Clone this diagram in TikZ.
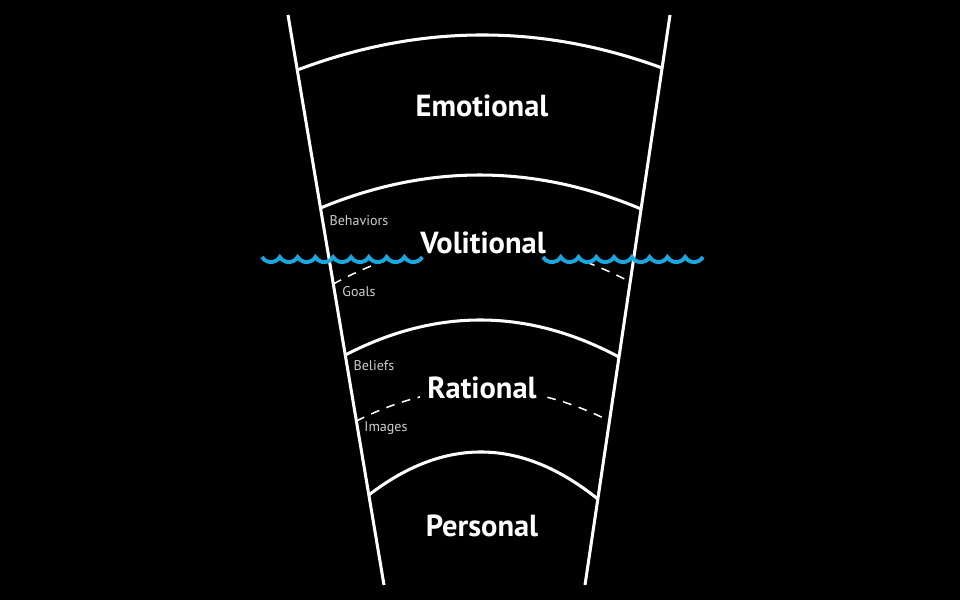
\documentclass[tikz,border=0pt]{standalone}
\usepackage{fontspec}
\setmainfont{PT Sans}
\definecolor{sea}{RGB}{28,166,222}
\definecolor{labelgray}{RGB}{205,205,205}

\begin{document}
\begin{tikzpicture}
  [x=0.03cm,y=-0.03cm,
   layer/.style={text=white,font=\bfseries\fontsize{26}{30}\selectfont},
   sublayer/.style={text=labelgray,font=\fontsize{12}{14}\selectfont},
   rim/.style={draw=white,line width=2.6pt},
   hidden/.style={draw=white,line width=1.3pt,dash pattern=on 7.5pt off 6.5pt},
   wave/.style={draw=sea,line width=3.3pt}]
  \fill[black] (0,0) rectangle (960,600);

  % funnel sides
  \coordinate (tl) at (288,15);
  \coordinate (bl) at (384,585);
  \coordinate (tr) at (670,15);
  \coordinate (br) at (585,585);
  \draw[rim] (tl) -- (bl);
  \draw[rim] (tr) -- (br);

  % layer boundaries
  \coordinate (l1) at (297.3,70);  \coordinate (p1) at (418.9,24);   \coordinate (q1) at (540.5,23.3);  \coordinate (r1) at (662.1,68);
  \coordinate (l2) at (320.5,208); \coordinate (p2) at (427.4,163.7); \coordinate (q2) at (534.2,164);   \coordinate (r2) at (641.1,209);
  \coordinate (l3) at (345.3,355); \coordinate (p3) at (436.6,307.7); \coordinate (q3) at (527.8,308.3); \coordinate (r3) at (619,357);
  \coordinate (l4) at (368.8,495); \coordinate (p4) at (445.1,436.3); \coordinate (q4) at (521.5,437.7); \coordinate (r4) at (597.8,499);
  \foreach \i in {1,...,4}
    \draw[rim] (l\i) .. controls (p\i) and (q\i) .. (r\i);

  % sub-layer boundaries
  \coordinate (lv) at (333.3,284); \coordinate (pv) at (432.3,230);   \coordinate (qv) at (531.2,229.3); \coordinate (rv) at (630.2,282);
  \coordinate (lr) at (356.4,421); \coordinate (pr) at (440.8,378.3); \coordinate (qr) at (525.2,378.3); \coordinate (rr) at (609.5,421);
  \begin{scope}
    \clip (0,263) rectangle (960,600);
    \draw[hidden] (lv) .. controls (pv) and (qv) .. (rv);
  \end{scope}
  \draw[hidden] (lr) .. controls (pr) and (qr) .. (rr);

  % water line
  \coordinate (wl) at (262,257);
  \coordinate (wr) at (543,257);
  \draw[wave] (wl) \foreach \k in {1,...,9} {arc[start angle=150,end angle=30,radius=10.28]};
  \draw[wave] (wr) \foreach \k in {1,...,9} {arc[start angle=150,end angle=30,radius=10.26]};

  \node [layer] (emo) at (482,106) {Emotional};
  \node [layer] (vol) at (483,243) {Volitional};
  \node [layer,fill=black,inner xsep=6pt] (rat) at (482,388) {Rational};
  \node [layer] (per) at (482,526) {Personal};

  \node [sublayer] (beh) at (359,221) {Behaviors};
  \node [sublayer] (goa) at (359,292) {Goals};
  \node [sublayer] (bel) at (374,366) {Beliefs};
  \node [sublayer] (ima) at (386,428) {Images};

\end{tikzpicture}
\end{document}
